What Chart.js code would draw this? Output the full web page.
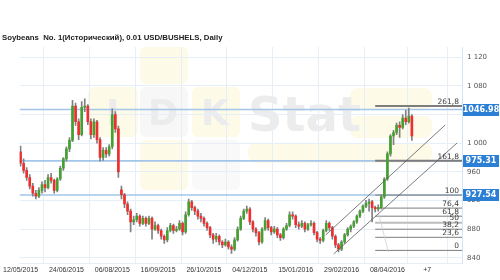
<!DOCTYPE html>
<html>
<head>
<meta charset="utf-8">
<script src="https://cdn.jsdelivr.net/npm/chart.js@4.4.1/dist/chart.umd.min.js"></script>
<style>
  html, body { margin: 0; padding: 0; background: #fff; }
  #wrap { width: 500px; height: 280px; }
</style>
</head>
<body>
<div id="wrap"><canvas id="chart"></canvas></div>
<script>
// Soybeans No. 1 daily candles
const opens  = [988,972,962,952,940,930,926,934,942,938,952,948,934,950,965,978,992,1004,1052,1030,
  1012,1050,1052,1030,1012,1030,1005,980,990,985,995,1040,1020,935,928,915,905,890,893,898,
  888,895,888,895,880,885,878,870,865,878,885,878,880,888,876,900,918,910,905,898,
  895,888,882,872,866,870,862,858,862,855,852,865,880,895,905,908,890,880,875,862,
  880,892,882,876,880,872,868,880,885,900,898,886,884,888,880,886,888,875,866,864,
  878,888,882,870,858,852,862,872,880,884,890,898,905,912,916,918,910,908,910,925,
  950,985,1010,1015,1025,1022,1035,1030,1038];
const highs  = [996,978,966,956,944,934,938,946,948,956,958,950,952,968,980,995,1008,1060,1056,1034,
  1058,1062,1054,1034,1034,1032,1008,994,994,998,1048,1044,1024,940,930,918,908,898,902,900,
  898,897,898,897,890,887,880,872,882,888,887,884,892,890,904,922,920,912,908,902,
  897,890,884,874,874,872,864,866,864,858,868,883,898,908,912,910,892,882,877,882,
  896,894,884,884,882,874,882,888,904,904,900,890,892,890,888,892,890,877,868,880,
  892,890,884,872,860,864,874,882,886,892,900,907,914,920,922,920,912,914,928,952,
  988,1012,1018,1028,1030,1040,1046,1049,1040];
const lows   = [968,958,948,936,926,922,924,930,932,936,944,930,932,948,962,975,988,1002,1025,1005,
  1010,1044,1026,1006,1008,1000,975,976,980,982,992,1015,952,922,910,900,876,886,890,884,
  886,884,886,866,878,874,866,860,862,876,874,876,878,872,874,898,906,900,894,890,
  884,878,868,860,862,858,854,856,852,846,850,863,878,893,902,886,876,870,858,860,
  878,878,872,874,868,864,866,878,883,894,882,880,882,876,878,884,872,862,860,862,
  876,878,866,854,848,850,860,870,876,882,888,896,903,910,905,890,904,905,908,923,
  948,982,998,1012,1008,1020,1026,1028,1004];
const closes = [972,962,952,940,930,926,934,942,938,952,948,934,950,965,978,992,1004,1052,1030,1012,
  1050,1052,1030,1012,1030,1005,980,990,985,995,1040,1020,960,928,915,905,890,893,898,888,
  895,888,895,880,885,878,870,865,878,885,878,880,888,876,900,918,910,905,898,895,
  888,882,872,866,870,862,858,862,855,852,865,880,895,905,908,890,880,875,862,880,
  892,882,876,880,872,868,880,885,900,898,886,884,888,880,886,888,875,866,864,878,
  888,882,870,858,852,862,872,880,884,890,898,905,912,916,918,910,908,910,925,950,
  985,1010,1015,1025,1022,1035,1030,1038,1010];

// x axis: bar index of each date label
const dateTicks  = [0, 15, 30, 45, 60, 75, 90, 105, 120, 133];
const dateLabels = ['12/05/2015','24/06/2015','06/08/2015','16/09/2015','26/10/2015',
  '04/12/2015','15/01/2016','29/02/2016','08/04/2016','+7'];
const priceTicks  = [840, 880, 920, 960, 1000, 1040, 1080, 1120];
const priceLabels = ['840','880','920','960','1 000','1 040','1 080','1 120'];

// marked price levels (blue lines and boxes)
const priceLevels = [1046.98, 975.31, 927.54];
const levelLabels = ['1046.98', '975.31', '927.54'];

// Fibonacci grid drawn from bar 116 to the right edge
const fibStart  = 116;
const fibValues = [1052, 975.3, 927.5, 909.3, 898, 888.9, 879.8, 868.5, 850.2];
const fibLabels = ['261,8','161,8','100','76,4','61,8','50','38,2','23,6','0'];

// trend channel (bar index, price)
const upperX = [99.8, 138.9],  upperY = [871.7, 1025.4];
const lowerX = [102.4, 142.8], lowerY = [845.2, 1000.3];
const thinX  = [117.1, 120.3], thinY  = [902.4, 848];

const xMin = -0.33, xMax = 144.4;
const yMin = 832.6, yMax = 1134.4;

const UP = '#45a030', DOWN = '#ee2f2f', WICK = '#808080';
const GRID = '#e6eff8', LEVEL = '#a3c5ea', BOX = '#2b7fd4';

const idx = closes.map((_, i) => i);
const pts = (xs, ys) => xs.map((x, i) => ({ x, y: ys[i] }));

const datasets = [
  {
    type: 'bar', label: 'wick', order: 3, grouped: false,
    data: idx.map(i => ({ x: i, y: [lows[i], highs[i]] })),
    backgroundColor: WICK, barThickness: 1, borderWidth: 0,
  },
  {
    type: 'bar', label: 'body', order: 2, grouped: false,
    data: idx.map(i => ({ x: i, y: [opens[i], closes[i]] })),
    backgroundColor: ctx => (closes[ctx.dataIndex] >= opens[ctx.dataIndex] ? UP : DOWN),
    barThickness: 2, minBarLength: 1, borderWidth: 0,
  },
];

priceLevels.forEach(v => datasets.push({
  type: 'line', order: 5, data: pts([xMin, xMax], [v, v]),
  borderColor: LEVEL, borderWidth: 1.6, pointRadius: 0,
}));

fibValues.forEach((v, k) => datasets.push({
  type: 'line', order: 4, data: pts([fibStart, xMax], [v, v]),
  borderColor: fibLabels[k] === '50' ? '#bdbdbd' : '#7d7d7d',
  borderWidth: (k < 2 || fibLabels[k] === '50') ? 2 : 1, pointRadius: 0,
}));

[[upperX, upperY, '#5a5a5a'], [lowerX, lowerY, '#5a5a5a'], [thinX, thinY, '#cfcfcf']].forEach(([xs, ys, c]) =>
  datasets.push({
    type: 'line', order: 1, data: pts(xs, ys),
    borderColor: c, borderWidth: 0.8, pointRadius: 0,
  }));

function roundRect(ctx, x, y, w, h, r, fill) {
  ctx.beginPath();
  ctx.roundRect(x, y, w, h, r);
  ctx.fillStyle = fill;
  ctx.fill();
}

// background logo, title and level tags
const decor = {
  id: 'decor',
  beforeDraw(chart) {
    const ctx = chart.ctx;
    ctx.save();
    const Y = '#fefae8', G = '#f7f7f7';
    roundRect(ctx, 140, 47, 48, 37, 6, Y);
    roundRect(ctx, 88, 87, 50, 50, 6, Y);
    roundRect(ctx, 140, 87, 48, 50, 6, G);
    roundRect(ctx, 192, 87, 48, 50, 6, Y);
    roundRect(ctx, 140, 140, 48, 50, 6, Y);
    roundRect(ctx, 192, 140, 48, 50, 6, '#f9f9f9');
    roundRect(ctx, 248, 143, 184, 20, 8, Y);
    roundRect(ctx, 350, 88, 82, 22, 8, Y);
    roundRect(ctx, 350, 116, 82, 22, 8, Y);
    ctx.fillStyle = '#ececec';
    ctx.textBaseline = 'alphabetic';
    ctx.font = 'bold 36px "DejaVu Sans"';
    ctx.fillText('I', 106, 125);
    ctx.fillText('D', 148, 125);
    ctx.fillText('K', 201, 125);
    ctx.font = 'bold 48px "DejaVu Sans"';
    ctx.fillText('Stat', 248, 131);

    ctx.fillStyle = '#222';
    ctx.font = 'bold 7.8px "Liberation Sans"';
    ctx.textBaseline = 'middle';
    ctx.fillText('Soybeans  No. 1(Исторический), 0.01 USD/BUSHELS, Daily', 2, 38);
    ctx.restore();
  },
  afterDraw(chart) {
    const ctx = chart.ctx, ys = chart.scales.y, xs = chart.scales.x;
    ctx.save();
    ctx.font = '7.5px "DejaVu Sans"';
    ctx.fillStyle = '#3a3a3a';
    ctx.textAlign = 'right';
    ctx.textBaseline = 'bottom';
    fibValues.forEach((v, k) => {
      ctx.fillText(fibLabels[k], xs.right - 3, ys.getPixelForValue(v) - 0.5);
    });
    ctx.font = 'bold 8px "DejaVu Sans"';
    ctx.textAlign = 'center';
    ctx.textBaseline = 'middle';
    priceLevels.forEach((v, k) => {
      const y = Math.round(ys.getPixelForValue(v));
      ctx.fillStyle = BOX;
      ctx.fillRect(xs.right + 1, y - 6, 36, 12);
      ctx.fillStyle = '#fff';
      ctx.fillText(levelLabels[k], xs.right + 19, y);
    });
    ctx.restore();
  },
};

new Chart(document.getElementById('chart'), {
  data: { datasets },
  options: {
    responsive: true,
    maintainAspectRatio: false,
    animation: false,
    layout: { padding: { left: 18, top: 47, right: 0, bottom: 0 } },
    plugins: { legend: { display: false }, tooltip: { enabled: false } },
    scales: {
      x: {
        type: 'linear', min: xMin, max: xMax, offset: false,
        afterBuildTicks: s => { s.ticks = dateTicks.map(value => ({ value })); },
        afterFit: s => { s.height = 17; },
        grid: { color: GRID, drawTicks: false },
        border: { color: GRID },
        ticks: {
          autoSkip: false, maxRotation: 0, padding: 3,
          color: '#333', font: { family: 'Liberation Sans', size: 7 },
          callback: (v, i) => dateLabels[i],
        },
      },
      y: {
        position: 'right', min: yMin, max: yMax,
        afterBuildTicks: s => { s.ticks = priceTicks.map(value => ({ value })); },
        afterFit: s => { s.width = 38; },
        grid: { color: GRID, drawTicks: false },
        border: { color: '#d6e4f2' },
        ticks: {
          padding: 5, color: '#555', font: { family: 'DejaVu Sans', size: 7 },
          callback: (v, i) => priceLabels[i],
        },
      },
    },
  },
  plugins: [decor],
});
</script>
</body>
</html>
